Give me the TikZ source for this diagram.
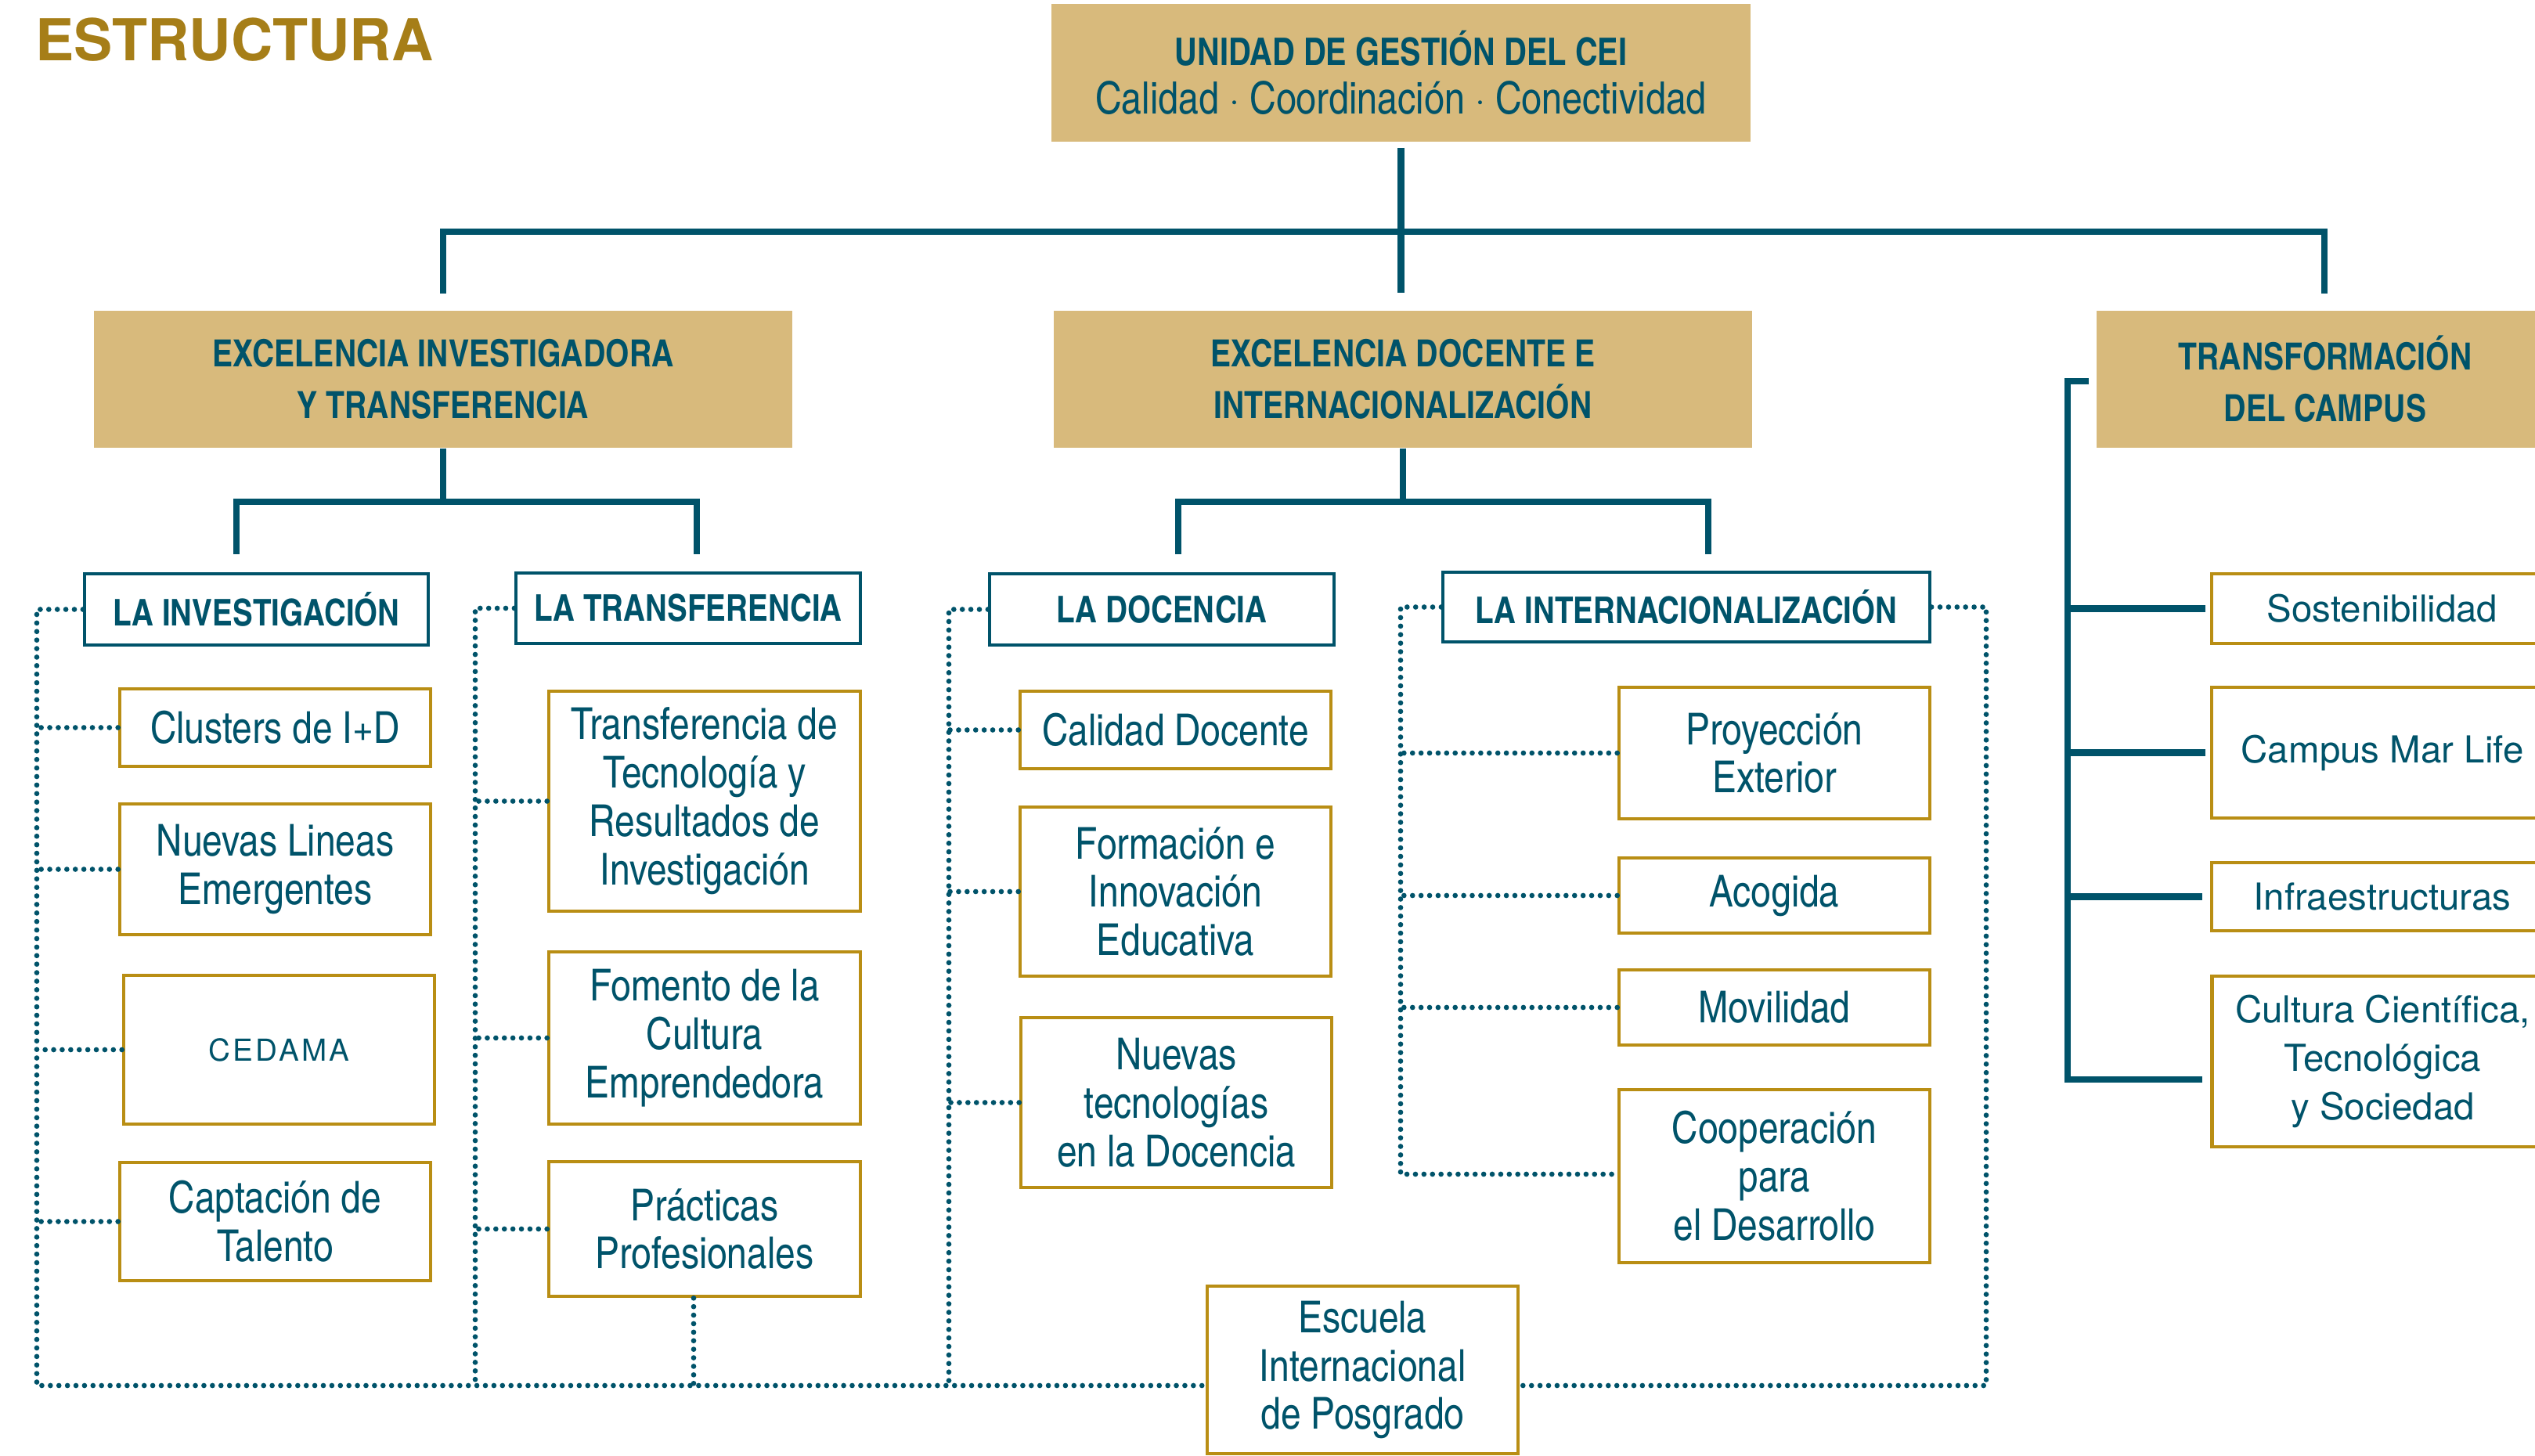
\documentclass[tikz,border=0pt]{standalone}
\usepackage{fontspec}
\setmainfont{texgyreheros}[Extension=.otf, UprightFont=*-regular, BoldFont=*-bold]
\newfontfamily\cnfont{texgyreheroscn}[Extension=.otf, UprightFont=*-regular, BoldFont=*-bold]
\newfontfamily\spacedfont{texgyreheros}[Extension=.otf, UprightFont=*-regular, LetterSpace=8]

\definecolor{ceiteal}{HTML}{00536A}
\definecolor{ceigold}{HTML}{B98E14}
\definecolor{ceitan}{HTML}{D8BA7C}
\definecolor{ceititle}{HTML}{A67E18}

\begin{document}
\begin{tikzpicture}[
  wh/.style 2 args={minimum width=#1cm, minimum height=#2cm},
  conn/.style={draw=ceiteal, line width=2.3pt},
  dotline/.style={draw=ceiteal, line width=1.9pt, line cap=round, dash pattern=on 0pt off 3.1pt},
  areabox/.style={fill=ceitan, text=ceiteal, align=center, inner sep=0pt,
    font=\cnfont\bfseries\fontsize{13.6}{18.8}\selectfont},
  headbox/.style={draw=ceiteal, line width=1.2pt, text=ceiteal, inner sep=0pt,
    font=\cnfont\bfseries\fontsize{13.4}{15}\selectfont},
  itembox/.style={draw=ceigold, line width=1.3pt, text=ceiteal, align=center, inner sep=0pt,
    font=\cnfont\fontsize{16}{17.6}\selectfont},
  campusbox/.style={itembox, font=\fontsize{13.5}{17.6}\selectfont}
  ]
  \useasboundingbox (0,0) rectangle (32.38,-18.60);
  \clip (0,0) rectangle (32.38,-18.60);

  \node[anchor=base west, text=ceititle, inner sep=0pt,
    font=\bfseries\fontsize{21}{24}\selectfont] (title) at (0.45,-0.78) {ESTRUCTURA};

  % top level
  \node[areabox, wh={8.93}{1.76}, font=\cnfont\bfseries\fontsize{13.8}{17.6}\selectfont] (ugc) at (17.895,-0.93)
    {UNIDAD DE GESTIÓN DEL CEI\\{\mdseries\fontsize{16.2}{17.6}\selectfont Calidad · Coordinación · Conectividad}};
  \node[areabox, wh={8.92}{1.75}] (exinv) at (5.66,-4.845) {EXCELENCIA INVESTIGADORA\\Y TRANSFERENCIA};
  \node[areabox, wh={8.92}{1.75}] (exdoc) at (17.92,-4.845) {EXCELENCIA DOCENTE E\\INTERNACIONALIZACIÓN};
  \node[areabox, wh={5.84}{1.75}] (trcamp) at (29.70,-4.845) {TRANSFORMACIÓN\\DEL CAMPUS};

  % second level
  \node[headbox, wh={4.39}{0.91}] (inv) at (3.275,-7.785) {LA INVESTIGACIÓN};
  \node[headbox, wh={4.40}{0.90}] (tra) at (8.79,-7.77) {LA TRANSFERENCIA};
  \node[headbox, wh={4.40}{0.91}] (doc) at (14.84,-7.785) {LA DOCENCIA};
  \node[headbox, wh={6.22}{0.89}] (int) at (21.54,-7.755) {LA INTERNACIONALIZACIÓN};

  % investigacion
  \node[itembox, wh={3.97}{0.99}] (clusters) at (3.515,-9.295) {Clusters de I+D};
  \node[itembox, wh={3.97}{1.67}] (nuevaslin) at (3.515,-11.105) {Nuevas Lineas\\Emergentes};
  \node[itembox, wh={3.97}{1.90}, font=\spacedfont\fontsize{11}{13}\selectfont] (cedama) at (3.565,-13.41) {CEDAMA};
  \node[itembox, wh={3.97}{1.51}] (talento) at (3.515,-15.605) {Captación de\\Talento};

  % transferencia
  \node[itembox, wh={3.98}{2.81}] (ttec) at (9.00,-10.235) {Transferencia de\\Tecnología y\\Resultados de\\Investigación};
  \node[itembox, wh={3.98}{2.20}] (fomento) at (9.00,-13.26) {Fomento de la\\Cultura\\Emprendedora};
  \node[itembox, wh={3.98}{1.72}] (practicas) at (9.00,-15.70) {Prácticas\\Profesionales};

  % docencia
  \node[itembox, wh={3.97}{0.99}] (caldoc) at (15.015,-9.325) {Calidad Docente};
  \node[itembox, wh={3.97}{2.16}] (formacion) at (15.015,-11.39) {Formación e\\Innovación\\Educativa};
  \node[itembox, wh={3.97}{2.17}] (nuevastec) at (15.025,-14.085) {Nuevas\\tecnologías\\en la Docencia};

  % internacionalizacion
  \node[itembox, wh={3.97}{1.68}] (proyeccion) at (22.665,-9.62) {Proyección\\Exterior};
  \node[itembox, wh={3.97}{0.96}] (acogida) at (22.665,-11.44) {Acogida};
  \node[itembox, wh={3.97}{0.96}] (movilidad) at (22.665,-12.87) {Movilidad};
  \node[itembox, wh={3.97}{2.21}] (cooperacion) at (22.665,-15.025) {Cooperación\\para\\el Desarrollo};
  \node[itembox, wh={3.97}{2.14}] (escuela) at (17.405,-17.50) {Escuela\\Internacional\\de Posgrado};

  % campus
  \node[campusbox, wh={4.36}{0.89}] (sostenib) at (30.43,-7.775) {Sostenibilidad};
  \node[campusbox, wh={4.36}{1.67}] (marlife) at (30.43,-9.615) {Campus Mar Life};
  \node[campusbox, wh={4.36}{0.87}] (infra) at (30.43,-11.455) {Infraestructuras};
  \node[campusbox, wh={4.36}{2.18}] (cultura) at (30.435,-13.56) {Cultura Científica,\\Tecnológica\\y Sociedad};

  % solid connectors
  \coordinate (hub) at (17.895,-2.96);
  \coordinate (exinvtop) at (5.66,-3.75);
  \coordinate (trcamptop) at (29.69,-3.75);
  \draw[conn] ([yshift=-0.7mm]ugc.south) -- (hub);
  \draw[conn] (exinvtop) |- (hub) -| (trcamptop);
  \draw[conn] (hub) -- ([yshift=2.2mm]exdoc.north -| hub);

  \coordinate (invtop) at (3.02,-7.08);
  \coordinate (tratop) at (8.90,-7.08);
  \coordinate (doctop) at (15.05,-7.08);
  \coordinate (inttop) at (21.82,-7.08);
  \draw[conn] (exinv.south) -- ++(0,-0.68) coordinate (invhub);
  \draw[conn] (invtop) |- (invhub) -| (tratop);
  \draw[conn] (exdoc.south) -- ++(0,-0.68) coordinate (dochub);
  \draw[conn] (doctop) |- (dochub) -| (inttop);

  \coordinate (spinetip) at (26.68,-4.87);
  \coordinate (spinebot) at (26.41,-13.79);
  \draw[conn] (spinetip) -| (spinebot) -- ([xshift=-1mm]spinebot -| cultura.west);
  \draw[conn] (sostenib.west -| spinebot) -- ([xshift=-0.6mm]sostenib.west);
  \draw[conn] (marlife.west -| spinebot) -- ([xshift=-0.6mm]marlife.west);
  \draw[conn] (infra.west -| spinebot) -- ([xshift=-1mm]infra.west);

  % dotted connectors
  \coordinate (invbot) at (0.47,-17.70);
  \coordinate (trabot) at (6.07,-17.70);
  \coordinate (docbot) at (12.12,-17.70);
  \coordinate (intbot) at (25.37,-17.70);
  \coordinate (intleft) at (17.89,-15.00);
  \draw[dotline] (inv.west) -| (invbot) -- (escuela.west |- invbot);
  \draw[dotline] (tra.west) -| (trabot);
  \draw[dotline] (doc.west) -| (docbot);
  \draw[dotline] (int.east) -| (intbot) -- (escuela.east |- intbot);
  \draw[dotline] (int.west) -| (intleft) -- (intleft -| cooperacion.west);
  \draw[dotline] ([xshift=-1.4mm]practicas.south) -- ([xshift=-1.4mm]practicas.south |- trabot);
  \foreach \n in {clusters, nuevaslin, cedama, talento}
    \draw[dotline] (\n.west) -- (\n.west -| invbot);
  \foreach \n in {ttec, fomento, practicas}
    \draw[dotline] (\n.west) -- (\n.west -| trabot);
  \foreach \n in {caldoc, formacion, nuevastec}
    \draw[dotline] (\n.west) -- (\n.west -| docbot);
  \foreach \n in {proyeccion, acogida, movilidad}
    \draw[dotline] (\n.west) -- (\n.west -| intleft);
\end{tikzpicture}
\end{document}
